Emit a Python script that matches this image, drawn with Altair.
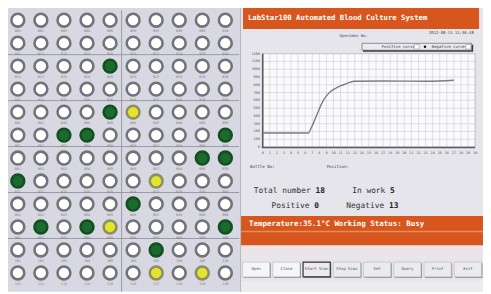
import altair as alt
import pandas as pd

# ---------------- data ----------------
well_rows = [
    "..........",
    "..........",
    "....G.....",
    "..........",
    "....GY....",
    "..GG.....G",
    "........GG",
    "G.....Y...",
    ".....G....",
    ".G.GY....G",
    "......G...",
    "......Y.Y.",
]
state_names = {".": "empty", "G": "green", "Y": "yellow"}
group_breaks = [2.5, 4.5, 6.5, 8.5, 10.5]
col_breaks = [5.5]

curve_hours = [0, 6.43, 6.9, 7.6, 8.29, 8.99, 9.68, 10.6, 11.76, 12.9, 17.0, 23.3, 27.0]
curve_values = [181, 181, 256, 404, 552, 657, 720, 771, 812, 846, 848, 846, 859]
x_ticks = list(range(0, 31))
y_ticks = list(range(0, 1201, 100))

stat_labels = ["Total number", "In work", "Positive", "Negative"]
stat_values = [18, 5, 0, 13]

button_names = ["Open", "Close", "Start Scan", "Stop Scan", "Set", "Query", "Print", "Exit"]

title_text = "LabStar100 Automated Blood Culture System"
status_text = "Temperature:35.1°C  Working Status: Busy"

# ---------------- helpers ----------------
MONO = "DejaVu Sans Mono"
dummy = alt.Data(values=[{"a": 1}])


def V(v):
    return alt.value(v - 8)


def box(x1, x2, y1, y2, fill, stroke=None, sw=0.0):
    kw = dict(fill=fill)
    if stroke is not None:
        kw.update(stroke=stroke, strokeWidth=sw)
    return alt.Chart(dummy).mark_rect(**kw).encode(x=V(x1), x2=V(x2), y=V(y1), y2=V(y2))


def line(x1, x2, y1, y2, color, sw=1.0):
    return alt.Chart(dummy).mark_rule(color=color, strokeWidth=sw).encode(
        x=V(x1), x2=V(x2), y=V(y1), y2=V(y2))


def label(text, x, y, size, color, weight="normal", align="left"):
    return alt.Chart(dummy).mark_text(
        text=text, fontSize=size, color=color, fontWeight=weight, align=align,
        baseline="middle", font=MONO).encode(x=V(x), y=V(y))


layers = []

# ---------------- left panel (wells) ----------------
layers.append(box(0, 244, 0, 294, "#d8d8e2"))

col_scale = alt.Scale(domain=[1, 10], range=[18 - 8, 229 - 8])
row_scale = alt.Scale(domain=[1, 12], range=[18 - 8, 275 - 8])

layers.append(
    alt.Chart(pd.DataFrame({"b": group_breaks})).mark_rule(color="#9a9aa4", strokeWidth=1).encode(
        y=alt.Y("b:Q", scale=row_scale, axis=None), x=alt.value(0), x2=V(243))
)
layers.append(
    alt.Chart(pd.DataFrame({"c": col_breaks})).mark_rule(color="#9a9aa4", strokeWidth=1).encode(
        x=alt.X("c:Q", scale=col_scale, axis=None), y=alt.value(0), y2=alt.value(286))
)

wells = []
for r, s in enumerate(well_rows, start=1):
    for c, ch in enumerate(s, start=1):
        wells.append({"row": r, "col": c, "state": state_names[ch],
                      "lab": "%03d" % ((r - 1) * 10 + c)})
wells = pd.DataFrame(wells)

layers.append(
    alt.Chart(wells).mark_text(fontSize=3.5, color="#7a7a82", baseline="middle", dy=11, font=MONO).encode(
        x=alt.X("col:Q", scale=col_scale, axis=None),
        y=alt.Y("row:Q", scale=row_scale, axis=None),
        text="lab:N")
)
layers.append(
    alt.Chart(wells).mark_point(shape="circle", size=170, strokeWidth=2.6, opacity=1).encode(
        x=alt.X("col:Q", scale=col_scale, axis=None),
        y=alt.Y("row:Q", scale=row_scale, axis=None),
        fill=alt.Fill("state:N", scale=alt.Scale(domain=["empty", "green", "yellow"],
                                                 range=["#ffffff", "#1b6a30", "#e4e42c"]), legend=None),
        stroke=alt.Stroke("state:N", scale=alt.Scale(domain=["empty", "green", "yellow"],
                                                     range=["#727278", "#12501f", "#8e8e66"]), legend=None))
)

# ---------------- right panel ----------------
layers.append(box(244, 491, 0, 294, "#e5e5eb"))
layers.append(line(244.5, 244.5, 0, 294, "#b4b4bc", 1))

# title bar
layers.append(box(247, 487, 5, 27, "#d6561d"))
layers.append(label(title_text, 252, 16, 7.4, "#ffffff", "bold"))

# small header texts
layers.append(label("Specimen No:", 345, 34, 4, "#3a4a70"))
layers.append(label("2012-08-15 11:36:48", 436, 31, 4, "#444444"))

# legend box
layers.append(box(369, 481, 43, 50, "#3a3a3a"))
layers.append(box(368, 479.5, 41.5, 48.5, "#e9e9ee", "#555555", 0.6))
layers.append(label("Positive curve", 388, 45, 4, "#444444"))
layers.append(box(421, 426, 42.8, 47.4, "#ffffff", "#888888", 0.5))
layers.append(alt.Chart(dummy).mark_point(shape="circle", filled=True, size=6, color="#111111", opacity=1).encode(
    x=V(432), y=V(45)))
layers.append(label("Negative curve", 439, 45, 4, "#444444"))
layers.append(box(473.5, 478.5, 42.8, 47.4, "#ffffff", "#888888", 0.5))

# plot area
px = alt.Scale(domain=[0, 30], range=[267 - 8, 483 - 8])
py = alt.Scale(domain=[0, 1200], range=[147 - 8, 52 - 8])
layers.append(box(267, 483, 52, 147, "#fbfbfd", "#b0b0b8", 0.8))
layers.append(
    alt.Chart(pd.DataFrame({"t": x_ticks})).mark_rule(color="#d0d0d8", strokeWidth=0.7).encode(
        x=alt.X("t:Q", scale=px, axis=None), y=V(52), y2=V(147))
)
layers.append(
    alt.Chart(pd.DataFrame({"v": y_ticks})).mark_rule(color="#d0d0d8", strokeWidth=0.7).encode(
        y=alt.Y("v:Q", scale=py, axis=None), x=V(267), x2=V(483))
)
layers.append(line(267, 267, 52, 148, "#5a5a60", 1.6))
layers.append(line(266, 483, 147.5, 147.5, "#5a5a60", 1.6))
layers.append(
    alt.Chart(pd.DataFrame({"v": y_ticks})).mark_text(fontSize=3.5, color="#555555", align="right",
                                                       baseline="middle", font=MONO).encode(
        y=alt.Y("v:Q", scale=py, axis=None), x=V(264), text="v:Q")
)
layers.append(
    alt.Chart(pd.DataFrame({"t": x_ticks})).mark_text(fontSize=3.5, color="#555555", align="center",
                                                       baseline="middle", font=MONO).encode(
        x=alt.X("t:Q", scale=px, axis=None), y=V(153), text="t:Q")
)
layers.append(
    alt.Chart(pd.DataFrame({"h": curve_hours, "val": curve_values})).mark_line(
        color="#7c7c82", strokeWidth=1.4, interpolate="monotone").encode(
        x=alt.X("h:Q", scale=px, axis=None), y=alt.Y("val:Q", scale=py, axis=None))
)

layers.append(label("Bottle No:", 254, 167, 4.2, "#444444"))
layers.append(label("Position:", 332, 167, 4.2, "#444444"))

# statistics
stat_pos = [(258, 191.5), (358, 191.5), (276, 207), (352, 207)]
for (x, y), lab, val in zip(stat_pos, stat_labels, stat_values):
    layers.append(label(lab, x, y, 8, "#333333"))
    layers.append(label(str(val), x + 0.602 * 8 * (len(lab) + 1), y, 8, "#222222", "bold"))

# status bar
layers.append(box(245, 491, 217, 247, "#d6561d"))
layers.append(box(245, 491, 232, 233.5, "#e58c5c"))
layers.append(label(status_text, 253, 225, 7.6, "#ffffff", "bold"))

# lower strip + buttons
layers.append(box(245, 491, 247, 261, "#ebe5e9"))
btn_df = pd.DataFrame({"name": button_names})
layers.append(
    alt.Chart(btn_df).mark_rect(fill="#8c8c94").encode(
        x=alt.X("name:N", sort=None, axis=None,
                scale=alt.Scale(type="band", domain=button_names, range=[238, 484], paddingInner=0.1)),
        y=V(265), y2=V(280))
)
layers.append(
    alt.Chart(btn_df).mark_rect().encode(
        x=alt.X("name:N", sort=None, axis=None,
                scale=alt.Scale(type="band", domain=button_names, range=[237, 483], paddingInner=0.1)),
        y=V(264), y2=V(279),
        fill=alt.condition("datum.name == 'Open' || datum.name == 'Close'",
                           alt.value("#f6f6f8"), alt.value("#ebebee")),
        stroke=alt.condition("datum.name == 'Start Scan'", alt.value("#333333"), alt.value("#b8b8c0")),
        strokeWidth=alt.condition("datum.name == 'Start Scan'", alt.value(1.2), alt.value(0.6)))
)
layers.append(
    alt.Chart(btn_df).mark_text(fontSize=4, color="#555555", baseline="middle", font=MONO).encode(
        x=alt.X("name:N", sort=None, axis=None, bandPosition=0.5,
                scale=alt.Scale(type="band", domain=button_names, range=[237, 483], paddingInner=0.1)),
        y=V(271.5), text="name:N")
)
layers.append(box(245, 491, 283, 294, "#ececef"))

chart = alt.layer(*layers).resolve_scale(
    x="independent", y="independent", fill="independent", stroke="independent",
    color="independent", strokeWidth="independent"
).properties(
    width=483, height=286, padding=0, autosize=alt.AutoSizeParams(type="none"),
    background="#ffffff"
).configure_view(strokeWidth=0)

chart.save("out.html", embed_options={"renderer": "svg", "actions": False})
